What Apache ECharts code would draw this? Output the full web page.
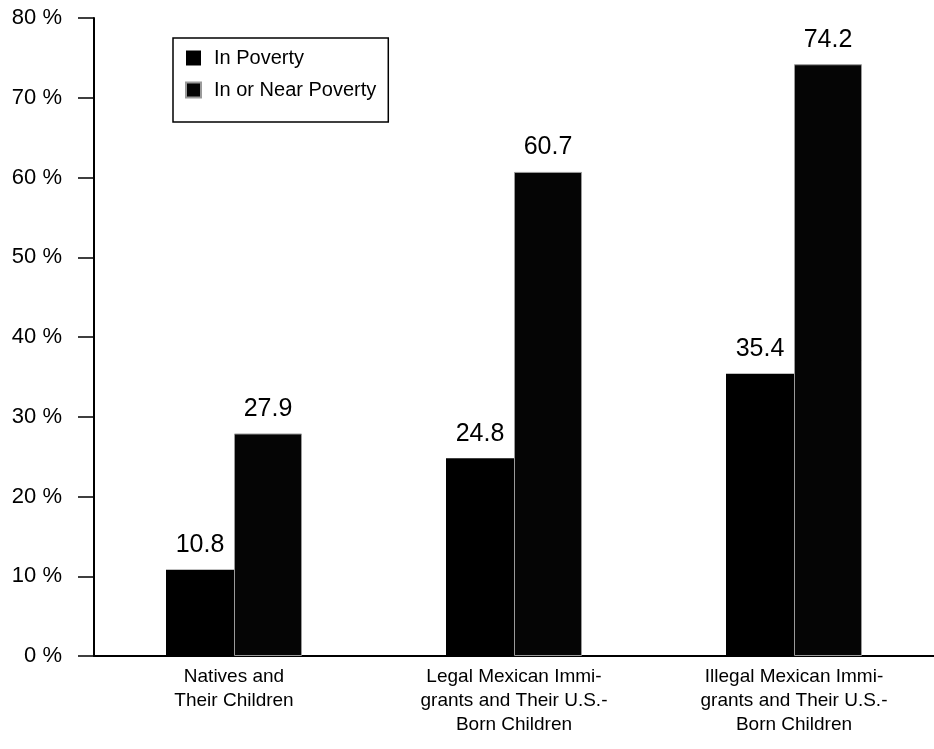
<!DOCTYPE html>
<html>
<head>
<meta charset="utf-8">
<script src="https://cdn.jsdelivr.net/npm/echarts@6/dist/echarts.min.js"></script>
<style>
  html, body { margin: 0; padding: 0; background: #fff; }
  #chart { width: 934px; height: 749px; }
</style>
</head>
<body>
<div id="chart"></div>
<script>
// Poverty rates by group (percent)
const categories = [
  'Natives and\nTheir Children',
  'Legal Mexican Immi-\ngrants and Their U.S.-\nBorn Children',
  'Illegal Mexican Immi-\ngrants and Their U.S.-\nBorn Children'
];
const seriesNames = ['In Poverty', 'In or Near Poverty'];
const inPoverty = [10.8, 24.8, 35.4];
const inOrNearPoverty = [27.9, 60.7, 74.2];
const yTicks = [0, 10, 20, 30, 40, 50, 60, 70, 80];

const sans = '"Liberation Sans", Arial, sans-serif';

const chart = echarts.init(document.getElementById('chart'), null, { renderer: 'canvas' });

const labelStyle = {
  show: true,
  position: 'top',
  distance: 12,
  color: '#000',
  fontFamily: sans,
  fontSize: 25,
  formatter: p => p.value.toFixed(1)
};

chart.setOption({
  animation: false,
  backgroundColor: '#fff',
  grid: { left: 94, top: 18, width: 846, height: 638, containLabel: false },
  legend: {
    left: 173,
    top: 38,
    orient: 'vertical',
    itemWidth: 15,
    itemHeight: 15,
    itemGap: 12,
    padding: [10, 12, 22, 12],
    borderColor: '#000',
    borderWidth: 1.5,
    textStyle: { color: '#000', fontFamily: sans, fontSize: 20, padding: [0, 0, 0, 8], width: 170 },
    data: [
      { name: seriesNames[0], icon: 'rect' },
      { name: seriesNames[1], icon: 'rect' }
    ]
  },
  xAxis: {
    type: 'category',
    data: categories,
    axisLine: { show: true, lineStyle: { color: '#000', width: 2 } },
    axisTick: { show: false },
    axisLabel: {
      color: '#000',
      fontFamily: sans,
      fontSize: 19,
      lineHeight: 24,
      margin: 9,
      interval: 0
    }
  },
  yAxis: {
    type: 'value',
    min: yTicks[0],
    max: yTicks[yTicks.length - 1],
    interval: 10,
    splitLine: { show: false },
    axisLine: { show: true, lineStyle: { color: '#000', width: 2 } },
    axisTick: { show: true, length: 16, lineStyle: { color: '#000', width: 1.5 } },
    axisLabel: {
      color: '#000',
      fontFamily: sans,
      fontSize: 22,
      margin: 32,
      formatter: v => v + ' %'
    }
  },
  series: [
    {
      name: seriesNames[0],
      type: 'bar',
      data: inPoverty,
      barWidth: 68,
      barGap: '0%',
      itemStyle: { color: '#000' },
      label: labelStyle
    },
    {
      name: seriesNames[1],
      type: 'bar',
      data: inOrNearPoverty,
      barWidth: 68,
      itemStyle: { color: '#050505', borderColor: '#9a9a9a', borderWidth: 1 },
      label: labelStyle
    }
  ]
});
</script>
</body>
</html>
